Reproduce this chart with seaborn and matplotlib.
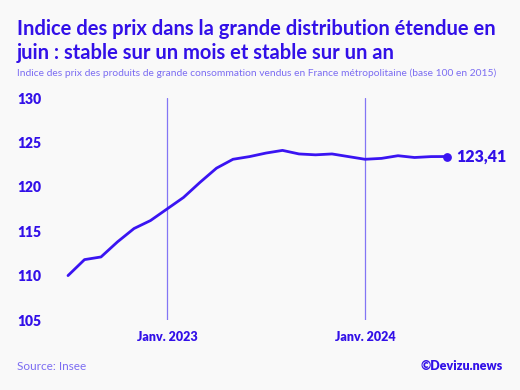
import matplotlib
matplotlib.use("Agg")
import matplotlib.pyplot as plt
import seaborn as sns
import pandas as pd

months = ["2022-07", "2022-08", "2022-09", "2022-10", "2022-11", "2022-12",
          "2023-01", "2023-02", "2023-03", "2023-04", "2023-05", "2023-06",
          "2023-07", "2023-08", "2023-09", "2023-10", "2023-11", "2023-12",
          "2024-01", "2024-02", "2024-03", "2024-04", "2024-05", "2024-06"]
values = [110.0, 111.8, 112.1, 113.8, 115.3, 116.2,
          117.5, 118.8, 120.5, 122.1, 123.1, 123.4,
          123.8, 124.1, 123.7, 123.6, 123.7, 123.4,
          123.1, 123.2, 123.5, 123.3, 123.4, 123.41]
tick_months = ["2023-01", "2024-01"]
tick_labels = ["Janv. 2023", "Janv. 2024"]
y_ticks = [105, 110, 115, 120, 125, 130]
last_label = "123,41"

BG = "#f9f9f9"
BLUE = "#3210e8"
LINE = "#3a14f2"
LIGHT = "#7b6cf2"
VLINE = "#8376f5"

sns.set_theme(style="white")
plt.rcParams["font.family"] = ["Lato", "DejaVu Sans"]

df = pd.DataFrame({"month": months, "value": values})
df["pos"] = range(len(df))

fig = plt.figure(figsize=(5.2, 3.9), dpi=100, facecolor=BG)
ax = fig.add_axes([55 / 520, 1 - 320 / 390, (500 - 55) / 520, (320 - 98) / 390])
ax.set_facecolor(BG)

tick_pos = [months.index(m) for m in tick_months]
for p in tick_pos:
    ax.axvline(p, color=VLINE, lw=0.9, zorder=1)

sns.lineplot(data=df, x="pos", y="value", ax=ax, color=LINE, lw=2.0, zorder=3)
ax.scatter([df["pos"].iloc[-1]], [df["value"].iloc[-1]], s=28, color=LINE, zorder=4)
ax.annotate(last_label, (df["pos"].iloc[-1], df["value"].iloc[-1]),
            xytext=(6, 0), textcoords="offset points", va="center", ha="left",
            fontsize=11.5, fontweight="heavy", color=BLUE)

px = 16.5
ax.set_xlim(-(68 - 55) / px, (500 - 68) / px)
ax.set_ylim(105, 130)
ax.set_yticks(y_ticks)
ax.set_xticks(tick_pos)
ax.set_xticklabels(tick_labels)
ax.set_xlabel("")
ax.set_ylabel("")
for s in ax.spines.values():
    s.set_visible(False)
ax.tick_params(axis="y", length=0, pad=38 * 0.72, labelsize=10, labelcolor=BLUE)
ax.tick_params(axis="x", length=0, pad=8, labelsize=9, labelcolor=BLUE)
for t in ax.get_yticklabels():
    t.set_fontweight("heavy")
    t.set_ha("left")
for t in ax.get_xticklabels():
    t.set_fontweight("heavy")

fig.text(17 / 520, 1 - 29 / 390, "Indice des prix dans la grande distribution étendue en",
         fontsize=14.5, fontweight="bold", color=BLUE, va="center", ha="left")
fig.text(17 / 520, 1 - 53 / 390, "juin : stable sur un mois et stable sur un an",
         fontsize=14.5, fontweight="bold", color=BLUE, va="center", ha="left")
fig.text(17 / 520, 1 - 73 / 390,
         "Indice des prix des produits de grande consommation vendus en France métropolitaine (base 100 en 2015)",
         fontsize=7.35, color=LIGHT, va="center", ha="left")
fig.text(17 / 520, 1 - 366 / 390, "Source: Insee", fontsize=8.5, color=LIGHT,
         va="center", ha="left")
fig.text(503 / 520, 1 - 366 / 390, "©Devizu.news", fontsize=9, color=BLUE,
         fontweight="heavy", va="center", ha="right")

fig.savefig("out.png", dpi=100, facecolor=BG)
